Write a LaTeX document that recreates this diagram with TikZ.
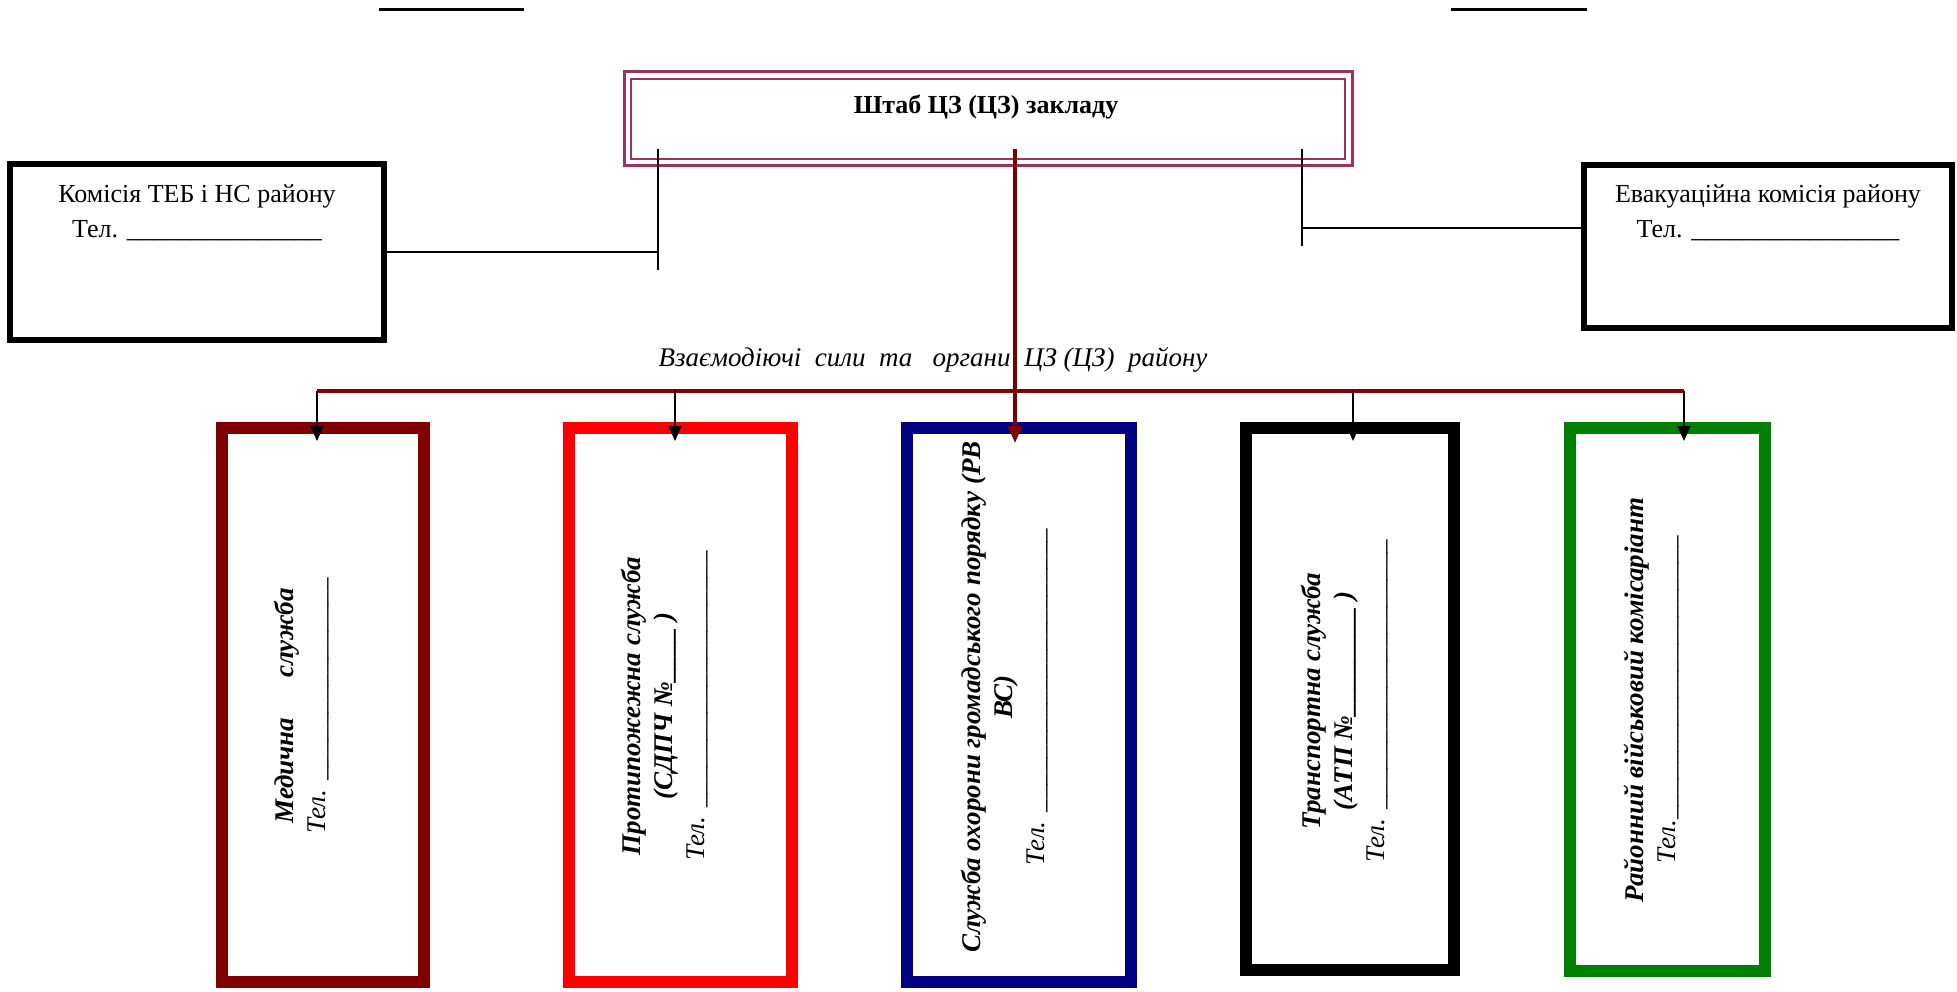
\documentclass[tikz,border=0pt]{standalone}
\usepackage{fontspec}
\setmainfont{Liberation Serif}
\usetikzlibrary{arrows.meta}
\definecolor{hqplum}{HTML}{993366}
\definecolor{darkred}{HTML}{800000}
\definecolor{navyblue}{HTML}{000080}
\definecolor{darkgreen}{HTML}{008000}
\ExplSyntaxOn
\cs_new:Npn \uscores #1 { \prg_replicate:nn {#1} { \_ } }
\ExplSyntaxOff
\begin{document}
\begin{tikzpicture}[x=1pt,y=-1pt,
  conn/.style={line width=1.5pt},
  sbox/.style={draw, line width=12pt, inner sep=0pt},
  sidebox/.style={draw, line width=6pt, inner sep=0pt},
  vtext/.style={rotate=90, align=center, inner sep=0pt, font=\fontsize{27}{32}\selectfont},
  htext/.style={align=center, inner sep=0pt, font=\fontsize{26}{35}\selectfont},
  arr/.style={line width=1.5pt, -{Triangle[length=15pt,width=13pt]}},
]
\useasboundingbox (0,0) rectangle (1957,992);
\fill[white] (0,0) rectangle (1957,992);

% top short lines
\coordinate (tl1) at (379,9.5); \coordinate (tl2) at (524,9.5);
\coordinate (tr1) at (1451,9.5); \coordinate (tr2) at (1587,9.5);
\draw[line width=2.5pt] (tl1) -- (tl2);
\draw[line width=2.5pt] (tr1) -- (tr2);

% headquarters
\node[draw=hqplum, line width=3pt, minimum width=728pt, minimum height=94pt, inner sep=0pt] (hq) at (988,119) {};
\node[draw=hqplum, line width=2.5pt, minimum width=714pt, minimum height=80pt, inner sep=0pt] (hqin) at (hq.center) {};
\node[inner sep=0pt, font=\fontsize{26}{30}\selectfont\bfseries] (hqt) at (986,107) {Штаб ЦЗ (ЦЗ) закладу};

% side boxes
\node[sidebox, minimum width=374pt, minimum height=176pt] (kom) at (197,252) {};
\node[htext] (komt) at (197,213) {Комісія ТЕБ і НС району\\Тел. \uscores{15}};
\node[sidebox, minimum width=368pt, minimum height=163pt] (evak) at (1768,246.5) {};
\node[htext] (evakt) at (1768,213) {Евакуаційна комісія району\\Тел. \uscores{16}};

% service boxes
\node[sbox, draw=darkred, minimum width=202pt, minimum height=554pt] (b1) at (323,705) {};
\node[sbox, draw=red, minimum width=223pt, minimum height=554pt] (b2) at (680.5,705) {};
\node[sbox, draw=navyblue, minimum width=224pt, minimum height=554pt] (b3) at (1019,705) {};
\node[sbox, draw=black, minimum width=208pt, minimum height=542pt] (b4) at (1350,699) {};
\node[sbox, draw=darkgreen, minimum width=195pt, minimum height=543pt] (b5) at (1667.5,699) {};

\node[vtext] (t1) at (302,706) {{\bfseries\itshape Медична\hspace{40pt}служба}\\{\itshape Тел. \uscores{15}}};
\node[vtext] (t2) at (665,706) {{\bfseries\itshape Протипожежна служба}\\{\bfseries\itshape (СДПЧ №\uscores{4} )}\\{\itshape Тел. \uscores{19}}};
\node[vtext] (t3) at (1005,697) {{\bfseries\itshape Служба охорони громадського порядку (РВ}\\{\bfseries\itshape ВС)}\\{\itshape Тел. \uscores{21}}};
\node[vtext] (t4) at (1345,701) {{\bfseries\itshape Транспортна служба}\\{\bfseries\itshape (АТП №\uscores{8} )}\\{\itshape Тел. \uscores{20}}};
\node[vtext] (t5) at (1651,700) {{\bfseries\itshape Районний військовий комісаріант}\\{\itshape Тел.\uscores{21}}};

% middle caption
\node[inner sep=0pt, font=\fontsize{27}{31}\selectfont\itshape] (mid) at (933,360) {Взаємодіючі\ \ сили\ \ та\ \ \ органи\ \ ЦЗ (ЦЗ)\ \ району};

% connectors to side boxes
\coordinate (lv1) at (658,149); \coordinate (lv2) at (658,270);
\draw[conn] (lv1) -- (lv2);
\draw[conn] (kom.east) -- (kom.east -| lv1);
\coordinate (rv1) at (1302,149); \coordinate (rv2) at (1302,246);
\draw[conn] (rv1) -- (rv2);
\coordinate (rh) at (1302,228);
\draw[conn] (rh) -- (rh -| evak.west);

% distribution bar
\coordinate (bl) at (317,391); \coordinate (br) at (1684,391);
\draw[darkred, line width=4.5pt] (bl) -- (br);

% arrows down
\coordinate (a1) at (317,391); \coordinate (e1) at (317,441);
\coordinate (a2) at (675,391); \coordinate (e2) at (675,441);
\coordinate (a4) at (1353,391); \coordinate (e4) at (1353,441);
\coordinate (a5) at (1684,391); \coordinate (e5) at (1684,441);
\draw[arr] (a1) -- (e1);
\draw[arr] (a2) -- (e2);
\draw[arr] (a4) -- (e4);
\draw[arr] (a5) -- (e5);

% central maroon line
\coordinate (c1) at (1015,149); \coordinate (c2) at (1015,443);
\draw[darkred, line width=3.5pt, -{Triangle[length=17pt,width=14pt]}] (c1) -- (c2);
\end{tikzpicture}
\end{document}
